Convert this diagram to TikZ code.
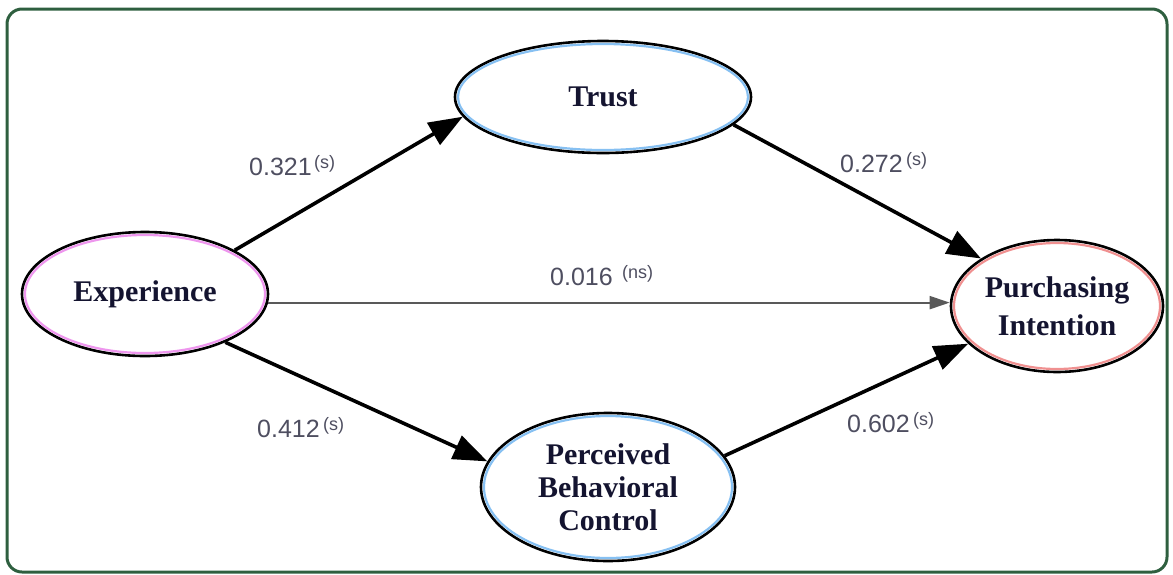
\documentclass[tikz,border=0pt]{standalone}
\usepackage{fontspec}
\setmainfont{Liberation Serif}
\newfontfamily\numfont{Liberation Sans}
\usetikzlibrary{arrows.meta,shapes.geometric}
\definecolor{framegreen}{HTML}{2E5F3F}
\definecolor{numcol}{HTML}{4E4E60}
\definecolor{txtcol}{HTML}{141430}
\definecolor{halob}{HTML}{86C0F2}
\definecolor{halop}{HTML}{EE96EE}
\definecolor{halor}{HTML}{F09090}
\tikzset{
  construct/.style={ellipse, draw=black, line width=2.6pt, inner sep=0pt, fill=white},
  label30/.style={font=\fontsize{30}{34}\selectfont\bfseries, text=txtcol, align=center},
  halo/.style={line width=2.2pt},
  path/.style={line width=3.6pt, -{Triangle[length=34pt,width=25pt]}},
  thinpath/.style={line width=2pt, draw=black!65, -{Triangle[length=20pt,width=13pt]}},
  coef/.style={font=\numfont\fontsize{25}{27}\selectfont, text=numcol, inner sep=0pt, anchor=base west},
  sig/.style={font=\numfont\fontsize{18}{20}\selectfont, text=numcol, inner sep=0pt, anchor=base west}
}
\begin{document}
\begin{tikzpicture}[x=1pt,y=-1pt]
\useasboundingbox (0,0) rectangle (1173,574);
\draw[framegreen, line width=3pt, rounded corners=15pt] (7,9) rectangle (1167,572);

\node[construct, minimum width=296pt, minimum height=112pt] (trust) at (603,97) {};
\node[construct, minimum width=246pt, minimum height=124pt] (exp) at (145,294) {};
\node[construct, minimum width=212pt, minimum height=132pt] (pi) at (1057,306) {};
\node[construct, minimum width=254pt, minimum height=148pt] (pbc) at (608,487) {};

\draw[halob, halo] (trust.center) ellipse [x radius=145pt, y radius=53pt];
\draw[halop, halo] (exp.center) ellipse [x radius=120pt, y radius=59pt];
\draw[halor, halo] (pi.center) ellipse [x radius=103pt, y radius=63pt];
\draw[halob, halo] (pbc.center) ellipse [x radius=124pt, y radius=71pt];

\node[label30] (trustlbl) at (trust.center) {Trust};
\node[label30] (explbl) at (exp.center) {Experience};
\node[label30, font=\fontsize{30}{38}\selectfont\bfseries] (pilbl) at (pi.center) {Purchasing\\Intention};
\node[label30, font=\fontsize{30}{33}\selectfont\bfseries] (pbclbl) at (pbc.center) {Perceived\\Behavioral\\Control};

\draw[path] (exp.26) -- (trust.188);
\draw[path] (trust.-12) -- (pi.148);
\draw[thinpath] (exp.-4) -- (exp.-4 -| pi.west);
\draw[path] (exp.-31) -- (pbc.168);
\draw[path] (pbc.15) -- (pi.203);

\node[coef] (c1) at (249,175) {0.321};
\node[sig] (s1) at ([xshift=2pt,yshift=7pt]c1.base east) {(s)};
\node[coef] (c2) at (840,172) {0.272};
\node[sig] (s2) at ([xshift=3pt,yshift=7pt]c2.base east) {(s)};
\node[coef] (c3) at (550,285) {0.016};
\node[sig] (s3) at ([xshift=9pt,yshift=7pt]c3.base east) {(ns)};
\node[coef] (c4) at (257,437) {0.412};
\node[sig] (s4) at ([xshift=3pt,yshift=7pt]c4.base east) {(s)};
\node[coef] (c5) at (847,432) {0.602};
\node[sig] (s5) at ([xshift=3pt,yshift=7pt]c5.base east) {(s)};
\end{tikzpicture}
\end{document}
